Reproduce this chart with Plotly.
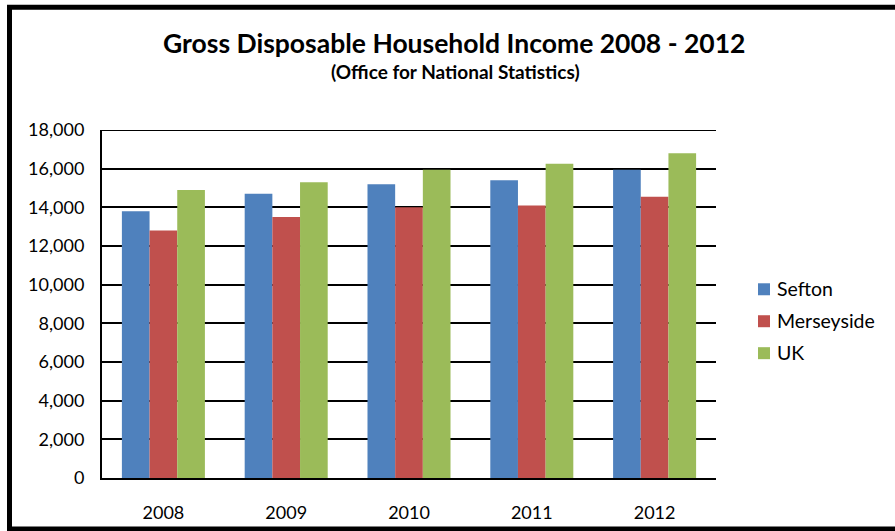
import plotly.graph_objects as go

years = ["2008", "2009", "2010", "2011", "2012"]
sefton = [13800, 14700, 15200, 15400, 15950]
merseyside = [12800, 13500, 14000, 14100, 14550]
uk = [14900, 15300, 15950, 16250, 16800]

series_names = ["Sefton", "Merseyside", "UK"]
series_values = [sefton, merseyside, uk]
series_colors = ["#4F81BD", "#C0504D", "#9BBB59"]

y_ticks = list(range(0, 18001, 2000))

FONT = "Lato"
W, H = 895, 531
L, R, T, B = 102, 716, 129.5, 478  # plot area in pixels


def px(x):
    return (x - L) / (R - L)


def py(y):
    return (B - y) / (B - T)


fig = go.Figure()
for name, vals, col in zip(series_names, series_values, series_colors):
    fig.add_trace(go.Bar(x=years, y=vals, name=name, marker=dict(color=col, line=dict(width=0)),
                         showlegend=False))

fig.update_layout(
    width=W, height=H,
    margin=dict(l=L, r=W - R, t=T, b=H - B, pad=0, autoexpand=False),
    paper_bgcolor="white", plot_bgcolor="white",
    barmode="group", bargap=0.324, bargroupgap=0,
    font=dict(family=FONT, size=18, color="black"),
)

fig.update_yaxes(
    range=[0, 18000], tickvals=y_ticks, tickformat=",",
    showgrid=True, gridcolor="black", gridwidth=2,
    showline=True, linecolor="black", linewidth=2,
    zeroline=False, ticks="", ticklabelstandoff=12, automargin=False,
)
fig.update_xaxes(
    showline=True, linecolor="black", linewidth=2,
    ticks="", ticklabelstandoff=17, automargin=False,
)

# top gridline at the axis maximum
fig.add_shape(type="line", xref="paper", yref="y", x0=0, x1=1, y0=18000, y1=18000,
              line=dict(color="black", width=2))

# chart frame
fig.add_shape(type="rect", xref="paper", yref="paper",
              x0=px(9.5), x1=px(905), y0=py(6.5), y1=py(529),
              line=dict(color="black", width=5), layer="above")

# title and subtitle
fig.add_annotation(text="<b>Gross Disposable Household Income 2008 - 2012</b>",
                   xref="paper", yref="paper", x=px(454), y=py(42),
                   xanchor="center", yanchor="middle",
                   showarrow=False, font=dict(size=26.5, family=FONT))
fig.add_annotation(text="<b>(Office for National Statistics)</b>",
                   xref="paper", yref="paper", x=px(455), y=py(71),
                   xanchor="center", yanchor="middle",
                   showarrow=False, font=dict(size=19, family=FONT))

# legend
for i, (name, col) in enumerate(zip(series_names, series_colors)):
    yc = 289 + 32 * i
    fig.add_shape(type="rect", xref="paper", yref="paper",
                  x0=px(758), x1=px(770), y0=py(yc - 6), y1=py(yc + 6),
                  fillcolor=col, line=dict(width=0))
    fig.add_annotation(text=name, xref="paper", yref="paper", x=px(775), y=py(yc - 1),
                       xanchor="left", yanchor="middle", showarrow=False,
                       font=dict(size=19.5, family=FONT))

fig.write_html("out.html")
